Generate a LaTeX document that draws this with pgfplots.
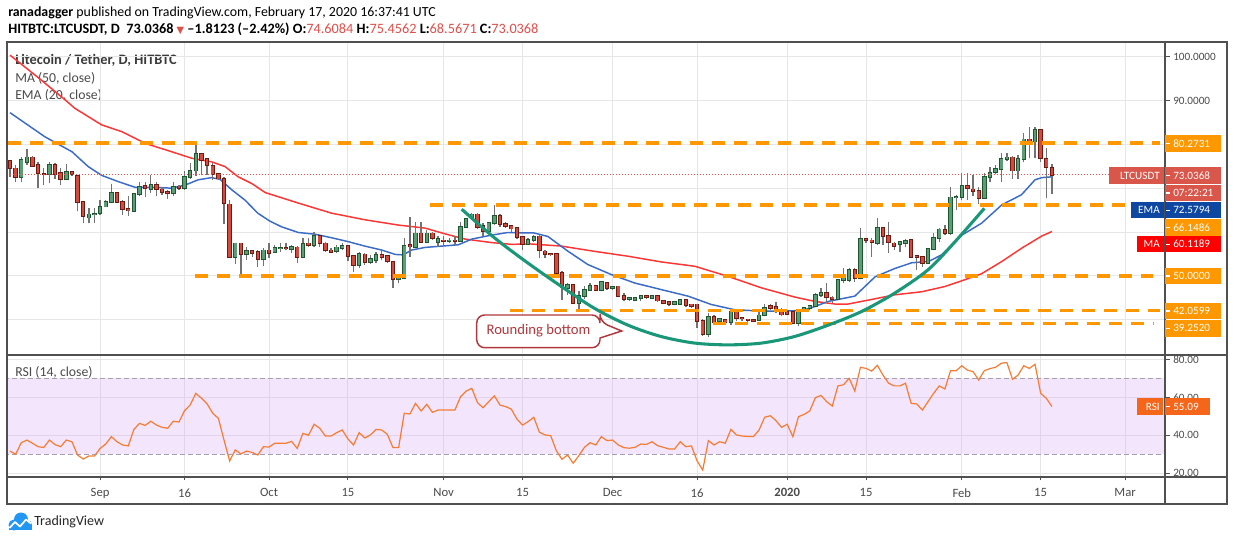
\documentclass[border=0pt]{standalone}
\usepackage{fontspec}
\setmainfont{Carlito}
\newfontfamily\dejavu{DejaVu Sans}
\usepackage{pgfplots}
\pgfplotsset{compat=1.18}
\usepackage{pgfplotstable}
\definecolor{upfill}{HTML}{5B9E74}
\definecolor{upline}{HTML}{1E5631}
\definecolor{dnfill}{HTML}{D24B3C}
\definecolor{dnline}{HTML}{6E1A12}
\definecolor{wick}{HTML}{737373}
\definecolor{emac}{HTML}{3A6BC8}
\definecolor{mac}{HTML}{FF3535}
\definecolor{lvl}{HTML}{FF9800}
\definecolor{tealc}{HTML}{1A9678}
\definecolor{rsic}{HTML}{F57C32}
\definecolor{bandc}{HTML}{D8A8F5}
\definecolor{bandline}{HTML}{A89EB2}
\definecolor{gridc}{HTML}{E6E6E6}
\definecolor{frame}{HTML}{505050}
\definecolor{lastc}{HTML}{D9564B}
\definecolor{emabox}{HTML}{0D47A1}
\definecolor{mabox}{HTML}{FF0000}
\definecolor{rsibox}{HTML}{F5661A}
\definecolor{txt}{HTML}{4A4A4A}
\definecolor{legtxt}{HTML}{3A3A3A}
\definecolor{hdrred}{HTML}{E04E4A}
\definecolor{callc}{HTML}{B0383C}
\definecolor{tvblue}{HTML}{2196F3}

\pgfplotstableread{
x o h l c
2 72.6 77.2 71.3 76.4
3 76.0 78.9 75.3 77.0
7 73.2 76.0 71.1 75.2
10 72.0 75.5 71.9 73.7
14 63.3 65.4 62.0 64.0
15 64.0 65.4 62.1 64.1
16 64.3 67.3 63.9 65.8
17 65.8 67.3 65.8 66.9
18 66.9 71.0 66.9 69.0
22 64.8 68.8 64.7 68.6
23 68.6 71.5 68.1 70.2
25 69.7 73.0 68.8 70.7
29 68.8 71.3 68.1 70.3
31 70.0 73.8 69.6 72.5
32 72.5 75.7 72.2 73.9
33 74.0 80.2 72.8 77.8
40 54.4 57.4 52.7 57.4
42 54.9 56.7 53.6 55.7
45 53.8 56.3 52.3 55.8
47 55.5 57.1 55.2 56.3
48 56.3 57.4 55.5 56.4
50 56.2 57.1 55.2 56.7
52 54.3 58.6 54.0 57.2
54 57.0 59.9 56.5 59.1
58 55.6 57.1 55.2 56.5
59 56.3 57.4 55.8 56.8
62 52.4 55.5 51.7 55.0
64 53.1 54.8 52.7 53.9
65 53.6 55.5 52.9 54.7
69 49.2 50.2 48.3 49.5
70 49.5 58.6 49.2 56.8
72 56.5 62.4 56.3 59.7
74 57.7 60.5 57.4 59.7
76 57.8 59.0 56.7 58.4
78 58.0 58.6 57.4 58.1
80 58.0 62.4 57.8 61.1
81 61.1 63.1 60.9 62.9
82 63.1 64.3 62.8 64.0
85 60.3 62.4 60.1 62.0
86 62.0 66.2 61.6 63.7
92 57.3 58.6 57.1 58.2
93 58.2 59.4 57.8 58.9
99 47.3 48.4 45.7 48.0
101 43.8 46.5 42.0 45.5
102 45.5 47.6 44.8 46.8
103 46.8 48.4 46.5 47.7
105 46.8 48.8 46.5 48.6
107 47.3 47.6 46.9 47.4
110 44.8 45.3 44.2 44.9
111 44.6 45.0 44.2 44.9
112 44.9 45.6 44.4 45.4
114 44.9 45.7 44.7 45.5
118 43.6 44.2 43.3 44.0
119 43.6 44.6 43.5 44.5
124 36.8 41.6 36.0 40.7
126 39.7 40.5 39.4 40.2
128 39.4 42.1 38.9 41.8
133 40.0 41.8 39.7 41.0
134 41.0 43.5 40.8 42.7
140 39.2 42.3 38.5 42.1
141 42.1 42.9 41.9 42.7
142 42.6 43.3 42.3 43.2
143 43.2 46.1 42.9 45.7
144 45.7 47.2 45.3 46.2
147 44.7 49.2 44.5 49.1
148 49.1 51.7 48.3 49.5
149 49.1 51.7 48.7 51.4
151 49.5 60.9 49.2 58.4
154 57.4 63.1 57.1 60.9
158 57.2 58.0 55.5 57.7
159 57.5 58.4 56.5 58.0
163 53.0 56.3 52.9 56.1
164 56.1 59.7 55.9 58.6
165 58.6 60.9 57.8 60.6
167 59.7 70.2 59.3 67.9
168 67.9 68.4 65.0 68.0
169 67.9 73.4 67.3 70.6
173 67.8 73.5 67.7 72.5
174 72.5 74.9 71.5 73.4
175 73.6 75.3 73.2 74.3
176 74.3 77.9 71.5 76.6
177 76.6 77.9 76.3 77.0
179 74.0 77.6 72.2 76.6
180 76.6 82.6 76.0 81.1
182 80.6 84.0 76.8 83.3
}\upT

\pgfplotstableread{
x o h l c
0 76.2 76.4 72.5 74.5
1 74.5 75.3 71.5 72.5
4 77.0 77.3 74.9 75.1
5 75.2 76.0 70.0 73.4
6 73.3 74.5 70.7 73.2
8 75.2 75.7 72.2 73.2
9 73.4 74.5 70.7 72.0
11 73.7 73.8 72.8 73.2
12 72.8 73.0 64.7 66.8
13 66.8 66.9 62.0 63.6
19 69.0 69.2 66.8 66.9
20 66.9 67.3 63.9 65.2
21 65.2 68.1 63.7 64.9
24 70.5 71.5 67.9 70.0
26 70.7 71.5 68.1 69.7
27 69.7 70.2 68.5 69.1
28 69.1 69.6 67.5 68.8
30 70.4 70.7 69.6 70.0
34 77.8 77.9 73.0 76.4
35 76.6 76.8 73.0 75.2
36 75.1 75.7 71.9 73.2
37 73.2 73.4 71.9 72.2
38 72.2 72.5 61.8 66.6
39 66.3 67.3 54.2 54.4
41 57.4 57.5 50.0 54.9
43 55.7 55.9 54.4 55.2
44 55.5 55.8 52.1 53.8
46 55.8 57.4 54.0 55.3
49 56.4 57.4 55.8 56.3
51 56.5 56.8 52.9 54.3
53 57.4 58.6 56.7 57.0
55 59.1 59.3 56.7 57.4
56 57.4 57.8 55.5 55.8
57 55.8 56.3 55.2 55.4
60 56.8 57.1 53.3 54.6
61 54.6 54.8 50.8 52.5
63 54.9 55.2 52.5 53.1
66 54.7 55.7 53.6 54.4
67 54.5 54.8 52.9 53.3
68 53.2 53.5 47.2 49.2
71 57.1 63.5 54.4 56.7
73 59.7 62.4 57.4 57.8
75 59.7 60.1 58.2 58.7
77 58.1 59.0 57.1 58.0
79 58.1 59.0 57.1 58.0
83 64.0 64.3 60.6 61.2
84 61.4 62.0 59.0 60.3
87 63.7 64.1 61.2 61.8
88 61.8 62.4 60.9 61.4
89 61.4 61.6 60.1 60.8
90 60.9 61.2 58.4 58.8
91 58.8 59.1 55.9 57.3
94 59.0 59.4 54.1 55.8
95 55.6 55.8 54.1 55.0
96 55.0 55.2 54.5 54.9
97 55.0 55.2 49.5 50.7
98 50.7 51.1 44.6 47.4
100 48.0 48.2 43.5 43.8
104 47.7 48.0 46.5 46.8
106 48.4 48.5 46.9 47.3
108 47.6 47.7 45.4 45.5
109 45.5 46.1 44.2 44.8
113 45.4 45.6 44.8 45.1
115 45.5 45.7 44.1 44.4
116 44.4 44.5 43.5 43.8
117 44.1 44.3 43.1 43.6
120 44.5 44.6 43.0 43.3
121 43.5 43.6 42.8 43.1
122 43.5 43.6 38.2 39.7
123 39.8 40.1 36.4 36.8
125 40.7 41.0 38.9 39.4
127 40.0 40.3 39.1 39.4
129 41.8 42.1 39.7 40.4
130 40.4 40.6 39.8 40.3
131 40.1 40.3 39.2 40.0
132 39.95 40.2 39.5 39.8
135 43.1 43.6 42.3 42.7
136 43.0 44.1 41.6 42.1
137 42.3 42.7 40.8 41.2
138 41.8 42.2 41.1 41.3
139 41.8 42.0 39.1 39.2
145 46.1 48.3 43.8 45.1
146 45.1 45.4 43.8 44.7
150 51.4 51.7 48.7 49.5
152 58.4 58.6 57.4 58.1
153 58.1 58.6 54.4 57.7
155 60.9 61.2 57.1 59.0
156 59.2 62.4 55.3 57.7
157 57.4 57.8 55.9 56.8
160 58.2 58.4 54.0 54.4
161 54.5 54.8 51.4 54.3
162 54.3 54.5 52.1 53.0
166 60.5 61.6 59.3 59.7
170 70.6 73.4 67.3 70.0
171 69.7 73.0 68.1 69.4
172 69.4 70.3 66.5 67.8
178 77.0 77.3 72.2 74.0
181 81.1 84.0 76.8 80.4
183 83.3 83.4 76.0 76.9
184 76.6 79.1 67.7 74.8
185 74.6084 75.4562 68.5671 73.0368
}\dnT

\pgfplotsset{
  eb/.style={only marks, mark=*, mark size=0pt, mark options={draw=none, fill=none}, forget plot,
    error bars/y dir=plus, error bars/y explicit,
    error bars/error mark=none, error bars/error bar style={#1}},
  lvlstyle/.style={lvl, line width=2.4pt, dash pattern=on 9.75pt off 6.75pt, forget plot},
}
\newcommand{\lblfont}{\fontsize{8.4}{10}\selectfont}
\newcommand{\legfont}{\fontsize{10.3}{12}\selectfont}
\newcommand{\rbox}[4]{%
  \fill[#1] (1165,#2) rectangle (1221,#3);
  \draw[white, line width=0.8pt] (1166,{(#2+#3)/2}) -- (1169.5,{(#2+#3)/2});
  \node[anchor=west, inner sep=0, text=white, font=\lblfont] at (1173,{(#2+#3)/2}) {#4};}

\begin{document}
\begin{tikzpicture}[x=0.75pt,y=-0.75pt]
\useasboundingbox (0,0) rectangle (1234,541);

% header
\node[anchor=west, inner sep=0, font=\fontsize{10.4}{12}\selectfont] at (8,12.5)
  {\textbf{ranadagger} published on TradingView.com, February 17, 2020 16:37:41 UTC};
\node[anchor=west, inner sep=0, font=\fontsize{10.7}{12}\selectfont] at (8,29.5)
  {\textbf{HITBTC:LTCUSDT, D\ \ 73.0368} {\dejavu\fontsize{7.3}{8}\selectfont\color{hdrred}▼} \textbf{–1.8123 (–2.42\%) O:}\textcolor{hdrred}{74.6084} \textbf{H:}\textcolor{hdrred}{75.4562} \textbf{L:}\textcolor{hdrred}{68.5671} \textbf{C:}\textcolor{hdrred}{73.0368}};

% legends
\node[anchor=west, inner sep=0, text=legtxt, font=\fontsize{10.8}{12}\selectfont\bfseries] at (15,60) {Litecoin / Tether, D, HITBTC};
\node[anchor=west, inner sep=0, text=txt, font=\legfont] at (15,78) {MA (50, close)};
\node[anchor=west, inner sep=0, text=txt, font=\legfont] at (15,95) {EMA (20, close)};
\node[anchor=west, inner sep=0, text=txt, font=\legfont] at (15,372.5) {RSI (14, close)};

% ---------------- price panel
\begin{axis}[name=price, at={(5.25pt,-31.725pt)}, anchor=north west,
  scale only axis, width=868.5pt, height=234.5pt,
  xmin=-0.533, xmax=205.08, ymin=32.0, ymax=103.23,
  axis line style={draw=none},
  xtick={16,31,46,60,77,91,107,122,138,152,169,183,198}, xticklabels={},
  ytick=\empty, major tick length=0pt,
  xmajorgrids, grid style={gridc, line width=0.75pt}, clip=true]
\pgfplotsinvokeforeach{40,50,60,70,80,90,100}{
  \addplot[gridc, line width=0.75pt, forget plot] coordinates {(-1,#1) (206,#1)};}
% MA 50
\addplot[mac, line width=1.1pt, forget plot] coordinates {
(0,100.3)(5,95.2)(9.8,90.1)(11.5,88.2)(16.3,84.4)(19.8,82.9)(24,80.2)(28.7,78.3)(32.3,76.8)
(35.8,76.0)(38.2,74.9)(40.5,72.6)(43,71.0)(45.3,69.0)(51.2,66.6)(57.1,64.3)(63,62.8)(68.9,61.6)
(73.7,60.9)(77.2,59.6)(80.8,58.4)(85.5,57.6)(89.1,57.2)(92.3,57.3)(97.9,56.8)(103.8,55.6)
(109.7,54.5)(115.6,53.2)(121.6,52.2)(127.5,49.9)(133.4,47.3)(139.3,45.2)(142.9,44.2)
(146.5,43.6)(148.8,43.6)(152.4,44.5)(157.1,45.7)(161.9,46.4)(166,47.6)(169,48.9)(172.5,50.5)
(176.1,53.3)(179.6,56.3)(183.2,59.1)(185,60.12)};
% EMA 20
\addplot[emac, line width=1.1pt, forget plot] coordinates {
(0,87.2)(2.7,84.8)(6.2,81.7)(11,78.3)(13.9,74.9)(16.3,72.9)(19.2,71.5)(22.2,70.2)(25.2,70.2)
(28.7,70.0)(31.1,70.7)(33.4,71.9)(35.8,72.4)(37.3,72.0)(39.4,69.6)(41.7,67.3)(44,64.3)(46,62.6)
(48.2,61.2)(51.2,59.9)(54.2,59.5)(57.1,58.7)(60.1,57.8)(63,56.8)(66,55.9)(68.4,54.9)(69.8,54.8)
(71.3,55.9)(73.7,56.5)(76.7,56.8)(79.6,57.1)(82,58.4)(85.5,59.3)(88.4,59.9)(91.4,59.8)(93,59.8)
(95.5,59.0)(99.1,55.6)(102.6,52.6)(106.8,50.3)(110.9,48.4)(115.6,46.9)(120.4,45.4)(124.5,43.5)
(128.7,42.3)(133.4,42.0)(137,42.0)(139.8,42.1)(142,42.6)(145.3,44.2)(150,45.4)(153.6,49.8)
(157.1,51.7)(160.1,53.0)(163.1,53.3)(165.4,54.8)(169,59.3)(172.5,62.0)(176.1,66.2)(179.6,68.5)
(182,71.9)(183.2,72.4)(185,72.58)};
% candles: wicks
\addplot[eb={wick, line width=1pt}] table[x=x, y=l, y error expr=\thisrow{h}-\thisrow{l}] \upT;
\addplot[eb={wick, line width=1pt}] table[x=x, y=l, y error expr=\thisrow{h}-\thisrow{l}] \dnT;
% bodies
\addplot[eb={upline, line width=3.3pt, shorten <=-0.65pt, shorten >=-0.65pt}] table[x=x, y=o, y error expr=\thisrow{c}-\thisrow{o}] \upT;
\addplot[eb={upfill, line width=1.9pt}] table[x=x, y=o, y error expr=\thisrow{c}-\thisrow{o}] \upT;
\addplot[eb={dnline, line width=3.3pt, shorten <=-0.65pt, shorten >=-0.65pt}] table[x=x, y=c, y error expr=\thisrow{o}-\thisrow{c}] \dnT;
\addplot[eb={dnfill, line width=1.9pt}] table[x=x, y=c, y error expr=\thisrow{o}-\thisrow{c}] \dnT;
% last price dotted line
\addplot[lastc, line width=0.75pt, dash pattern=on 0.75pt off 1.5pt, forget plot] coordinates {(-0.6,73.0368) (205.1,73.0368)};
% horizontal levels
\addplot[lvlstyle] coordinates {(-0.3,80.2731) (204.2,80.2731)};
\addplot[lvlstyle] coordinates {(74.6,66.1486) (203.7,66.1486)};
\addplot[lvlstyle] coordinates {(32.9,50.0) (203.0,50.0)};
\addplot[lvlstyle] coordinates {(88.8,42.0599) (204.2,42.0599)};
\addplot[lvlstyle] coordinates {(124.8,39.252) (203.0,39.252)};
% rounding bottom curve
\addplot[tealc, line width=2.3pt, smooth, forget plot] coordinates {
(80.2,65.2)(86.1,58.6)(92.0,52.9)(97.9,47.6)(103.8,42.6)(109.7,38.8)(115.6,36.2)(121.6,34.7)
(127.5,34.3)(133.4,34.7)(139.3,36.2)(145.3,38.8)(151.2,41.9)(157.1,46.1)(163.0,51.4)(167.8,57.8)(173.0,65.4)};
\end{axis}

% ---------------- RSI panel
\begin{axis}[name=rsi, at={(5.25pt,-266.25pt)}, anchor=north west,
  scale only axis, width=868.5pt, height=91.5pt,
  xmin=-0.533, xmax=205.08, ymin=18.05, ymax=82.26,
  axis line style={draw=none},
  xtick={16,31,46,60,77,91,107,122,138,152,169,183,198},
  xticklabels={Sep,16,Oct,15,Nov,15,Dec,16,\textbf{2020},15,Feb,15,Mar},
  xtick pos=bottom, tick align=outside, major tick length=2.6pt,
  tick style={frame, line width=0.75pt},
  xticklabel style={font=\fontsize{9.5}{11}\selectfont, text=txt, yshift=-2.5pt},
  ytick=\empty,
  xmajorgrids, grid style={gridc, line width=0.75pt}, clip=true]
\pgfplotsinvokeforeach{20,40,60,80}{
  \addplot[gridc, line width=0.75pt, forget plot] coordinates {(-1,#1) (206,#1)};}
\addplot[draw=none, fill=bandc, fill opacity=0.3, forget plot] coordinates {(-1,30) (204.9,30) (204.9,70) (-1,70)} -- cycle;
\addplot[bandline, line width=0.75pt, dash pattern=on 3.75pt off 2.25pt, forget plot] coordinates {(-1,70) (204.9,70)};
\addplot[bandline, line width=0.75pt, dash pattern=on 3.75pt off 2.25pt, forget plot] coordinates {(-1,30) (204.9,30)};
\addplot[rsic, line width=0.9pt, forget plot] coordinates {
(0,31.7)(1,30)(2,36.1)(3,37.5)(4,35.8)(5,34)(6,33.6)(7,37.5)(8,35.1)(9,34)(10,37.5)(11,36.6)
(12,29.6)(13,27.5)(14,29.1)(15,29.1)(16,33.1)(17,35.4)(18,39.3)(19,36.6)(20,34.9)(21,34.4)
(22,43.1)(23,46.3)(24,45.2)(25,47.4)(26,45.4)(27,44.2)(28,43.7)(29,47.4)(30,47.0)(31,53.0)
(32,56.0)(33,62.1)(34,59.5)(35,56.5)(36,51.6)(37,48.9)(38,37.5)(39,26.5)(40,32.3)(41,30.2)
(42,31.7)(43,31.0)(44,29.6)(45,34)(46,33.8)(47,35.8)(48,35.8)(49,35.8)(50,36.8)(51,33.1)
(52,41.0)(53,40.0)(54,45.8)(55,43.7)(56,39.6)(57,39.6)(58,41.4)(59,42.8)(60,38.1)(61,34.9)
(62,41.4)(63,38.6)(64,40.2)(65,43.1)(66,42.8)(67,40.5)(68,33.5)(69,33.5)(70,51.6)(71,51.2)
(72,56.8)(73,52.8)(74,56.3)(75,52.1)(76,53.3)(77,53.3)(78,53.3)(79,53.3)(80,60.3)(81,63.3)
(82,64.7)(83,57.2)(84,54.5)(85,57.7)(86,60.8)(87,55.9)(88,55.1)(89,53.8)(90,48.6)(91,45.4)
(92,47.2)(93,49.5)(94,41.6)(95,40.2)(96,39.8)(97,31.9)(98,27.4)(99,29.6)(100,25.3)(101,29.3)
(102,33.7)(103,36.1)(104,34.9)(105,39.3)(106,37.2)(107,37.5)(108,34.9)(109,33.5)(110,33.2)
(111,33.7)(112,35.4)(113,35.2)(114,36.6)(115,34.5)(116,33.7)(117,32.8)(118,32.8)(119,36.6)
(120,34)(121,34.4)(122,26.5)(123,21.7)(124,37.2)(125,34.9)(126,36.6)(127,35.8)(128,43.1)
(129,40.2)(130,39.6)(131,39.4)(132,39.3)(133,42.8)(134,49.5)(135,50.3)(136,47.7)(137,44.2)
(138,45.8)(139,39.3)(140,49.8)(141,51.0)(142,52.8)(143,59.8)(144,61.0)(145,57.7)(146,55.4)
(147,66.0)(148,66.6)(149,70)(150,63.3)(151,75.8)(152,75.2)(153,73.8)(154,76.8)(155,71.7)
(156,67.4)(157,66)(158,66)(159,67.4)(160,56.8)(161,56.5)(162,53.3)(163,57.7)(164,62.1)
(165,66)(166,64.4)(167,74.0)(168,74.0)(169,76.6)(170,74.3)(171,73.5)(172,69.1)(173,74.0)
(174,75.1)(175,75.8)(176,77.9)(177,78.3)(178,69.5)(179,71.7)(180,76.6)(181,75.2)(182,77.4)
(183,62.1)(184,59.5)(185,55.09)};
\end{axis}

% frame
\draw[frame, line width=1.3pt] (7,42.3) rectangle (1227,504);
\draw[frame, line width=1.3pt] (7,355) -- (1227,355);
\draw[frame, line width=1.3pt] (7,477) -- (1227,477);
\draw[frame, line width=1.3pt] (1165,42.3) -- (1165,504);

% right price scale
\draw[frame, line width=0.75pt] (1165,57) -- (1169.5,57);
\draw[frame, line width=0.75pt] (1165,100.7) -- (1169.5,100.7);
\node[anchor=west, inner sep=0, text=txt, font=\lblfont] at (1173,57) {100.0000};
\node[anchor=west, inner sep=0, text=txt, font=\lblfont] at (1173,100.7) {90.0000};
\rbox{lvl}{135}{151.7}{80.2731}
\rbox{lastc}{167.3}{184}{73.0368}
\rbox{lastc}{185}{201}{07:22:21}
\rbox{emabox}{202.3}{218.3}{72.5794}
\rbox{lvl}{219}{235.7}{66.1486}
\rbox{mabox}{236}{252.3}{60.1189}
\rbox{lvl}{267.7}{284.3}{50.0000}
\rbox{lvl}{303}{319}{42.0599}
\rbox{lvl}{320}{336.7}{39.2520}
\fill[lastc] (1109,167.3) rectangle (1164,184);
\node[anchor=east, inner sep=0, text=white, font=\lblfont] at (1160,175.7) {LTCUSDT};
\fill[emabox] (1131,202.3) rectangle (1164,218.3);
\node[anchor=east, inner sep=0, text=white, font=\lblfont] at (1160,210.3) {EMA};
\fill[mabox] (1136.7,236) rectangle (1164,252.3);
\node[anchor=east, inner sep=0, text=white, font=\lblfont] at (1160,244.2) {MA};

% RSI scale
\begin{scope}
\clip (1166,356) rectangle (1226,476.3);
\foreach \v/\yy in {80/359.3, 60/397.3, 40/435.3, 20/473.3}{
  \draw[frame, line width=0.75pt] (1165,\yy) -- (1169.5,\yy);
  \node[anchor=west, inner sep=0, text=txt, font=\lblfont] at (1173,\yy) {\v.00};}
\end{scope}
\fill[rsibox] (1165,398.3) rectangle (1210,415);
\draw[white, line width=0.8pt] (1166,406.6) -- (1169.5,406.6);
\node[anchor=west, inner sep=0, text=white, font=\lblfont] at (1173,406.6) {55.09};
\fill[rsibox] (1136.7,398.3) rectangle (1163.3,415);
\node[anchor=east, inner sep=0, text=white, font=\lblfont] at (1160,406.6) {RSI};

% callout
\draw[callc, line width=1.1pt, fill=white, rounded corners=6] (476.7,315) -- (600,315) -- (600,322)
  [sharp corners] -- (621.7,331) -- (600,338) [rounded corners=6] -- (600,347.7) -- (476.7,347.7) -- cycle;
\node[text=callc, inner sep=0, font=\fontsize{11}{13}\selectfont] at (538.5,331) {Rounding bottom};

% logo
\fill[tvblue] (14,525) circle (5.5);
\fill[tvblue] (21,519.5) circle (7);
\fill[tvblue] (27,525) circle (5);
\fill[tvblue] (9,525) rectangle (31.5,530);
\draw[white, line width=1.3pt, line join=round] (9.5,528) -- (15,522) -- (20,526.5) -- (26,519.5) -- (31,523.5);
\node[anchor=west, inner sep=0, text=black!85, font=\fontsize{10.5}{12}\selectfont] at (34,522) {TradingView};
\end{tikzpicture}
\end{document}
